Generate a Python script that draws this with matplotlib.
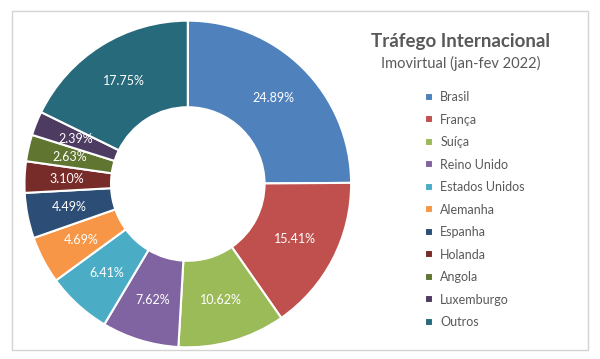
import matplotlib.pyplot as plt
from matplotlib.patches import Rectangle

plt.rcParams['font.family'] = ['Lato', 'DejaVu Sans']

countries = ["Brasil", "França", "Suíça", "Reino Unido", "Estados Unidos",
             "Alemanha", "Espanha", "Holanda", "Angola", "Luxemburgo", "Outros"]
shares = [24.89, 15.41, 10.62, 7.62, 6.41, 4.69, 4.49, 3.10, 2.63, 2.39, 17.75]
colors = ["#4F81BD", "#C0504D", "#9BBB59", "#8064A2", "#4BACC6", "#F79646",
          "#2C4D75", "#772C2A", "#5F7530", "#4D3B62", "#276A7C"]

W, H = 600, 359
fig = plt.figure(figsize=(W / 100, H / 100), dpi=100)

# chart frame
fig.patches.append(Rectangle((12 / W, 1 - 350 / H), 576 / W, 339 / H,
                             transform=fig.transFigure, fill=False,
                             edgecolor="#d4d4d4", lw=1.0))

ax = fig.add_axes([0.038, 0.028, 0.55, 0.919])
wedges, _, autotexts = ax.pie(
    shares, colors=colors, startangle=90, counterclock=False,
    autopct="%.2f%%", pctdistance=0.74,
    wedgeprops=dict(width=0.53, edgecolor="white", linewidth=1.5),
    textprops=dict(color="white", fontsize=9))
ax.set_aspect("equal")
ax.set_xlim(-1.01, 1.01); ax.set_ylim(-1.01, 1.01)
ax.axis("off")

fig.text(460 / W, 1 - 42 / H, "Tráfego Internacional", ha="center", va="center",
         fontsize=13.5, fontweight="bold", color="#595959")
fig.text(461 / W, 1 - 63 / H, "Imovirtual (jan-fev 2022)", ha="center", va="center",
         fontsize=10.5, color="#595959")

leg = fig.legend(wedges, countries, loc="upper left",
                 bbox_to_anchor=(414 / W, 1 - 80 / H), frameon=False,
                 fontsize=9, labelspacing=0.84, handlelength=0.6, handleheight=0.6,
                 handletextpad=0.6, labelcolor="#595959")

fig.savefig("out.png", dpi=100)
